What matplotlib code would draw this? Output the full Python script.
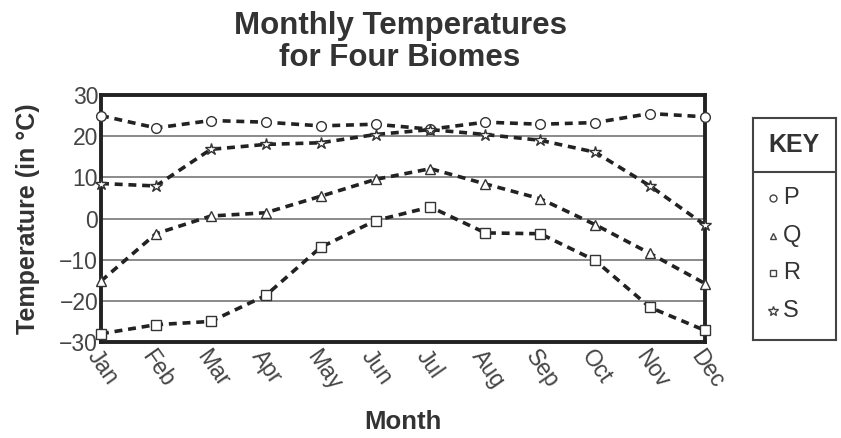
import matplotlib.pyplot as plt

plt.rcParams['font.family'] = ['Liberation Sans', 'DejaVu Sans']

# Data
months = ["Jan", "Feb", "Mar", "Apr", "May", "Jun", "Jul", "Aug", "Sep", "Oct", "Nov", "Dec"]
temp_p = [25, 22, 23.8, 23.4, 22.5, 22.9, 21.7, 23.4, 22.9, 23.3, 25.5, 24.7]
temp_q = [-15.2, -3.7, 0.6, 1.4, 5.4, 9.5, 12.1, 8.4, 4.8, -1.5, -8.5, -15.8]
temp_r = [-28, -25.8, -25, -18.7, -7, -0.5, 2.8, -3.5, -3.7, -10.2, -21.6, -27.2]
temp_s = [8.5, 7.9, 16.8, 18, 18.4, 20.4, 21.6, 20.4, 19, 16.1, 7.9, -1.6]

series = [("P", temp_p, "o"), ("Q", temp_q, "^"), ("R", temp_r, "s"), ("S", temp_s, "*")]
yticks = [-30, -20, -10, 0, 10, 20, 30]

fig = plt.figure(figsize=(8.41, 4.38), dpi=100)
ax = fig.add_axes([101 / 841, 96 / 438, 604 / 841, 247 / 438])

x = list(range(len(months)))
for name, vals, mk in series:
    ax.plot(x, vals, color="#222222", lw=2.6, ls=(0, (2.2, 1.6)),
            marker=mk, ms=9 if mk == "*" else 7, mfc="white", mec="#333333", mew=1.0,
            clip_on=False, zorder=3)

ax.set_xlim(0, 11)
ax.set_ylim(-30, 30)
ax.set_yticks(yticks)
ax.set_xticks(x)
ax.set_xticklabels(months, rotation=-55, ha="left", va="top", rotation_mode="anchor")
for yv in [-20, -10, 0, 10, 20]:
    ax.axhline(yv, color="#777777", lw=1.2, zorder=1)
ax.tick_params(axis="both", length=0, labelsize=16.5, colors="#444444")
ax.tick_params(axis="x", pad=3)
ax.tick_params(axis="y", pad=2)
for sp in ax.spines.values():
    sp.set_linewidth(2.8)
    sp.set_color("#222222")

ax.set_ylabel("Temperature (in °C)", fontsize=18, fontweight="bold", color="#333333", labelpad=14)
ax.set_xlabel("Month", fontsize=18.5, fontweight="bold", color="#333333", labelpad=11)
fig.text(400 / 841, 1 - 42 / 438, "Monthly Temperatures\nfor Four Biomes", ha="center", va="center",
         fontsize=22.5, fontweight="bold", color="#333333", linespacing=1.1)

# Key box
kax = fig.add_axes([753 / 841, 98 / 438, 83 / 841, 222 / 438])
kax.set_xlim(0, 1)
kax.set_ylim(0, 1)
kax.set_xticks([])
kax.set_yticks([])
for sp in kax.spines.values():
    sp.set_linewidth(1.5)
    sp.set_color("#444444")
kax.axhline(0.757, color="#444444", lw=1.5)
kax.text(0.5, 0.88, "KEY", ha="center", va="center", fontsize=18, fontweight="bold", color="#333333")
key_y = [0.640, 0.468, 0.302, 0.131]
for (name, vals, mk), ky in zip(series, key_y):
    kax.plot([0.24], [ky], marker=mk, ms=7 if mk == "*" else 5, mfc="white", mec="#444444", mew=1.0)
    kax.text(0.36, ky, name, ha="left", va="center", fontsize=17, color="#333333")

fig.savefig("out.png", dpi=100)
